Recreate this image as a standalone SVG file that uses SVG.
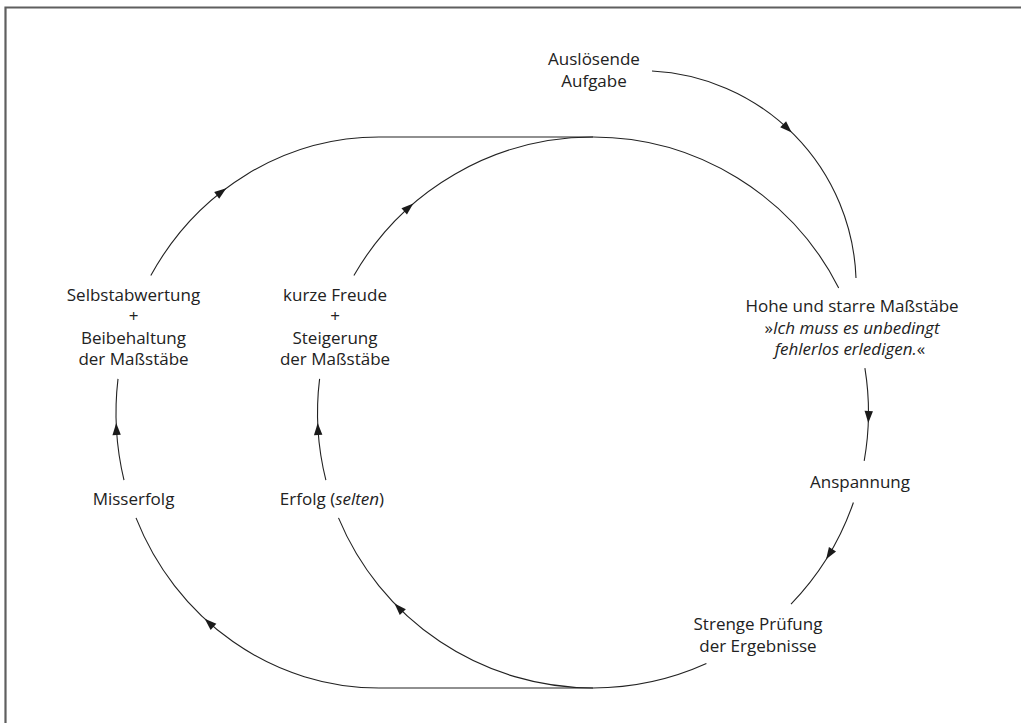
<svg xmlns="http://www.w3.org/2000/svg" width="1021" height="723" viewBox="0 0 1021 723">
<style>
  text { font-family: "Open Sans", "Noto Sans", "Liberation Sans", sans-serif; font-size: 17px; fill: #222; text-anchor: middle; }
  .it { font-style: italic; }
  .conn { fill: none; stroke: #222; stroke-width: 1.1; }
  .frame { fill: none; stroke: #5f5f5f; stroke-width: 2.2; }
  .ah { fill: #1a1a1a; }
</style>
<defs>
  <path id="ah" class="ah" d="M0,0 L-12,-4.2 L-12,4.2 Z"/>
</defs>
<rect width="1021" height="723" fill="#ffffff"/>
<path class="frame" d="M5.5,723 V7.5 H1021"/>

<g id="connectors">
  <path class="conn" d="M652,71 A215,215 0 0 1 856,278"/>
  <path class="conn" d="M593,137 A275.5,275.5 0 0 1 838.7,287.9"/>
  <path class="conn" d="M864.9,368.2 A275.5,275.5 0 0 1 864.2,460.8"/>
  <path class="conn" d="M853.4,502.5 A275.5,275.5 0 0 1 791,604.1"/>
  <path class="conn" d="M706.4,663.6 A275.5,275.5 0 0 1 593,688"/>
  <path class="conn" d="M593,688 A275.5,275.5 0 0 1 338.5,517.9"/>
  <path class="conn" d="M325.9,480.1 A275.5,275.5 0 0 1 319.6,378.9"/>
  <path class="conn" d="M353.9,275.6 A275.5,275.5 0 0 1 593,137"/>
  <path class="conn" d="M593,688 H379"/>
  <path class="conn" d="M379,688 A263,275.5 0 0 1 136,517.9"/>
  <path class="conn" d="M124,480.1 A263,275.5 0 0 1 118,378.9"/>
  <path class="conn" d="M150.8,275.6 A263,275.5 0 0 1 379,137"/>
  <path class="conn" d="M379,137 H593"/>
  <use href="#ah" transform="translate(791.7,132.6) rotate(44.5)"/>
  <use href="#ah" transform="translate(868.3,423) rotate(92.2)"/>
  <use href="#ah" transform="translate(826.1,559.3) rotate(122.2)"/>
  <use href="#ah" transform="translate(204.7,618.8) rotate(222.8)"/>
  <use href="#ah" transform="translate(394.5,603.5) rotate(226.1)"/>
  <use href="#ah" transform="translate(116.2,423) rotate(267.9)"/>
  <use href="#ah" transform="translate(317.7,423) rotate(267.8)"/>
  <use href="#ah" transform="translate(226.3,188.2) rotate(-36.8)"/>
  <use href="#ah" transform="translate(413.3,203.6) rotate(-40.7)"/>
</g>

<g id="node-aufgabe">
  <text x="594" y="65">Auslösende</text>
  <text x="594" y="86.5">Aufgabe</text>
</g>
<g id="node-massstaebe">
  <text x="852" y="312">Hohe und starre Maßstäbe</text>
  <text x="852" y="333.5">»<tspan class="it">Ich muss es unbedingt</tspan></text>
  <text x="850" y="355"><tspan class="it">fehlerlos erledigen.</tspan>«</text>
</g>
<g id="node-anspannung">
  <text x="860" y="488">Anspannung</text>
</g>
<g id="node-pruefung">
  <text x="758" y="630">Strenge Prüfung</text>
  <text x="758" y="651.5">der Ergebnisse</text>
</g>
<g id="node-misserfolg">
  <text x="133.5" y="505">Misserfolg</text>
</g>
<g id="node-erfolg">
  <text x="332" y="505">Erfolg (<tspan class="it">selten</tspan>)</text>
</g>
<g id="node-selbstabwertung">
  <text x="133.5" y="300.5">Selbstabwertung</text>
  <text x="133.5" y="322">+</text>
  <text x="133.5" y="343.5">Beibehaltung</text>
  <text x="133.5" y="365">der Maßstäbe</text>
</g>
<g id="node-freude">
  <text x="335" y="300.5">kurze Freude</text>
  <text x="335" y="322">+</text>
  <text x="335" y="343.5">Steigerung</text>
  <text x="335" y="365">der Maßstäbe</text>
</g>
</svg>
